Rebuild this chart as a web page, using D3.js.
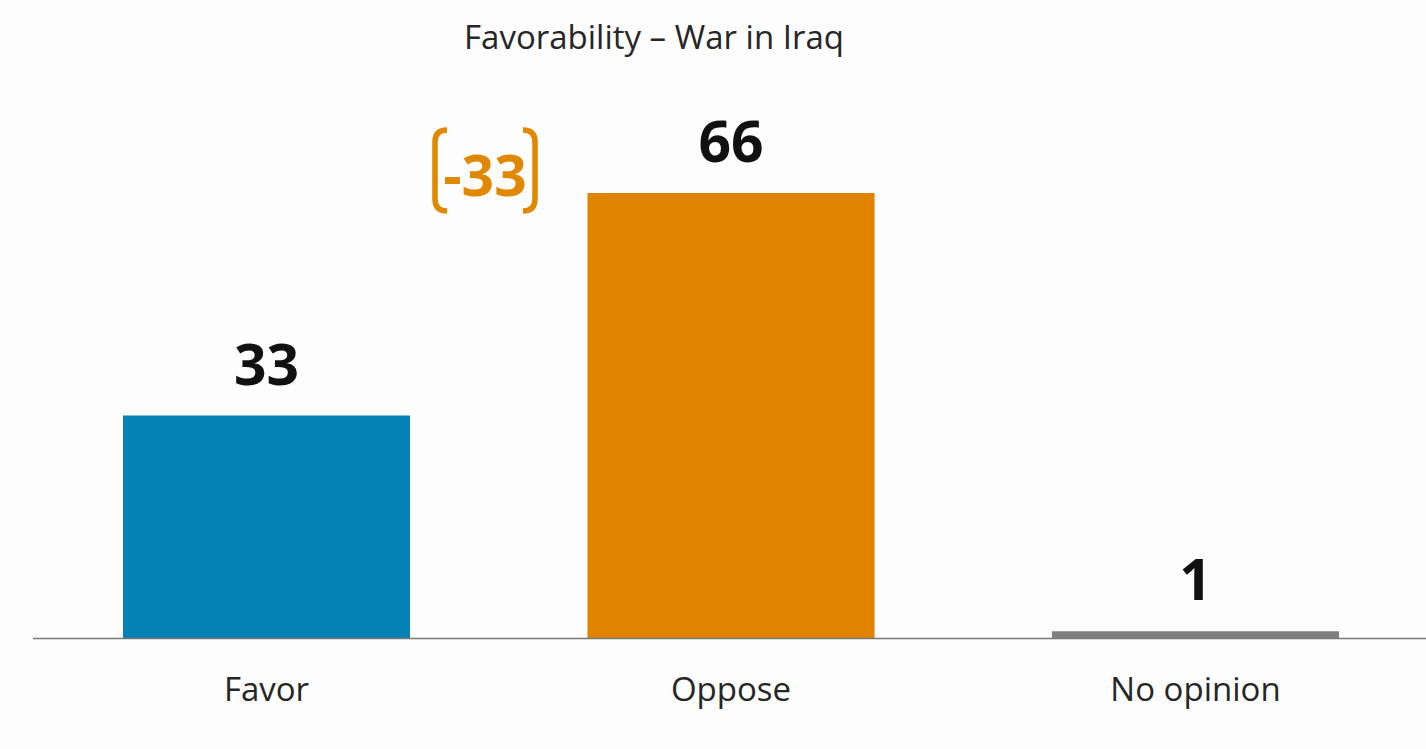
<!DOCTYPE html>
<html>
<head>
<meta charset="utf-8">
<script src="https://cdn.jsdelivr.net/npm/d3@7"></script>
<style>
  html, body { margin: 0; padding: 0; background: #fdfdfd; }
  svg { display: block; }
</style>
</head>
<body>
<svg id="chart" width="1426" height="749"></svg>
<script>
const title = "Favorability \u2013 War in Iraq";
const categories = ["Favor", "Oppose", "No opinion"];
const values = [33, 66, 1];
const barColors = ["#0581b6", "#e08400", "#7f7f7f"];
const netLabel = "-33";

const W = 1426, H = 749;
const svg = d3.select("#chart");
svg.append("rect").attr("width", W).attr("height", H).attr("fill", "#fdfdfd");

const font = "'Open Sans', sans-serif";

const x = d3.scaleBand().domain(categories).range([33, 1429])
  .paddingInner(0.382).paddingOuter(0.1937);
const y = d3.scaleLinear().domain([0, 66]).range([638, 193]);

// title
svg.append("text").attr("x", 654).attr("y", 49).attr("text-anchor", "middle")
  .attr("font-family", font).attr("font-size", 33).attr("fill", "#262626")
  .text(title);

// bars
svg.selectAll("rect.bar").data(values).join("rect").attr("class", "bar")
  .attr("x", (d, i) => x(categories[i]))
  .attr("y", d => y(d))
  .attr("width", x.bandwidth())
  .attr("height", d => y(0) - y(d))
  .attr("fill", (d, i) => barColors[i]);

// baseline axis
const axis = d3.axisBottom(x).tickSize(0).tickPadding(0);
const gAxis = svg.append("g").attr("transform", `translate(0,${y(0)})`).call(axis);
gAxis.select(".domain").attr("d", "M33,0.5H1426").attr("stroke", "#7a7a7a").attr("stroke-width", 1.5);
gAxis.selectAll(".tick text").attr("font-family", font).attr("font-size", 33)
  .attr("fill", "#262626").attr("dy", null).attr("y", 63);

// value labels
svg.selectAll("text.val").data(values).join("text").attr("class", "val")
  .attr("x", (d, i) => x(categories[i]) + x.bandwidth() / 2)
  .attr("y", d => y(d) - 31)
  .attr("text-anchor", "middle")
  .attr("font-family", font).attr("font-weight", 700).attr("font-size", 57)
  .attr("fill", "#111")
  .text(d => d);

// net difference label with brackets
const orange = "#e08800";
const g = svg.append("g");
g.append("text").attr("x", 485).attr("y", 196).attr("text-anchor", "middle")
  .attr("font-family", font).attr("font-weight", 700).attr("font-size", 57)
  .attr("fill", orange).text(netLabel);
g.append("path").attr("d", "M447,130 Q435,130 435,142 V199 Q435,211 447,211")
  .attr("fill", "none").attr("stroke", orange).attr("stroke-width", 5.5);
g.append("path").attr("d", "M523,130 Q535,130 535,142 V199 Q535,211 523,211")
  .attr("fill", "none").attr("stroke", orange).attr("stroke-width", 5.5);
</script>
</body>
</html>
